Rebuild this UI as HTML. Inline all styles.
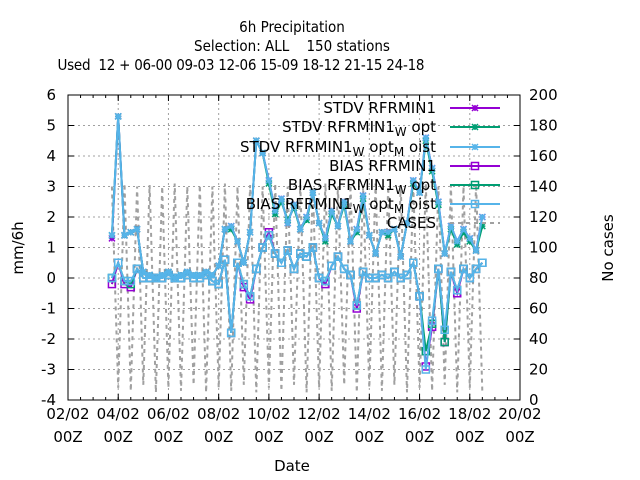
<!DOCTYPE html>
<html><head><meta charset="utf-8"><style>
html,body{margin:0;padding:0;background:#fff;}
svg{display:block;font-family:"DejaVu Sans","Liberation Sans",sans-serif;}
.ttl{font-family:"DejaVu Sans Condensed","DejaVu Sans","Liberation Sans",sans-serif;font-stretch:condensed;}
</style></head><body>
<svg id="chart" width="640" height="480" viewBox="0 0 640 480">
<g class="ttl" font-size="15" text-anchor="middle" fill="#000">
<text x="292" y="32">6h Precipitation</text>
<text x="292" y="51" xml:space="preserve">Selection: ALL    150 stations</text>
<text x="241" y="70" textLength="367" lengthAdjust="spacing" xml:space="preserve">Used  12 + 06-00 09-03 12-06 15-09 18-12 21-15 24-18</text>
</g>
<g id="grid"></g>
<g id="axes"></g>
<g id="series"></g>
<rect x="68" y="95" width="452" height="305" fill="none" stroke="#000" stroke-width="1"/>
<text x="292" y="471" font-size="15" text-anchor="middle">Date</text>
<text transform="translate(23,248) rotate(-90)" font-size="15" text-anchor="middle">mm/6h</text>
<text transform="translate(613,248) rotate(-90)" font-size="15" text-anchor="middle">No cases</text>
<g id="legend" font-size="15" text-anchor="end"></g>
</svg>
<script>
const days=[3.75,4,4.25,4.5,4.75,5,5.25,5.5,5.75,6,6.25,6.5,6.75,7,7.25,7.5,7.75,8,8.25,8.5,8.75,9,9.25,9.5,9.75,10,10.25,10.5,10.75,11,11.25,11.5,11.75,12,12.25,12.5,12.75,13,13.25,13.5,13.75,14,14.25,14.5,14.75,15,15.25,15.5,15.75,16,16.25,16.5,16.75,17,17.25,17.5,17.75,18,18.25,18.5];
const stdv=[1.3,5.3,1.4,1.5,1.6,0.2,0.1,0.0,0.1,0.2,0.0,0.1,0.2,0.1,0.1,0.2,0.1,0.4,1.6,1.7,1.2,0.5,1.5,4.5,4.1,3.2,2.2,2.6,1.8,2.4,1.6,2.0,2.8,1.8,1.3,2.2,1.7,2.5,1.2,1.6,2.7,1.4,0.8,1.5,1.5,1.6,0.7,1.8,3.2,2.8,4.6,3.6,2.5,0.8,1.7,1.2,1.6,1.3,0.9,2.0];
const stdvW=[1.4,5.3,1.4,1.5,1.6,0.2,0.1,0.0,0.1,0.2,0.0,0.1,0.2,0.1,0.1,0.2,0.1,0.4,1.6,1.6,1.2,0.5,1.5,4.5,4.1,3.1,2.1,2.5,1.9,2.3,1.6,1.9,2.8,1.8,1.2,2.1,1.7,2.4,1.2,1.5,2.6,1.4,0.8,1.5,1.4,1.6,0.7,1.8,3.1,2.8,4.5,3.5,2.4,0.8,1.6,1.1,1.5,1.2,0.9,1.7];
const stdvM=[1.4,5.3,1.4,1.5,1.6,0.2,0.1,0.0,0.1,0.2,0.0,0.1,0.2,0.1,0.1,0.2,0.1,0.4,1.6,1.7,1.2,0.5,1.5,4.5,4.1,3.2,2.2,2.6,1.8,2.4,1.6,2.0,2.8,1.8,1.3,2.2,1.7,2.5,1.2,1.6,2.7,1.4,0.8,1.5,1.5,1.6,0.7,1.8,3.2,2.8,4.6,3.6,2.5,0.8,1.7,1.2,1.6,1.3,0.9,2.0];
const bias=[-0.2,0.5,-0.2,-0.3,0.3,0.0,0.0,0.0,0.0,0.1,0.0,0.0,0.1,0.0,0.0,0.1,-0.1,-0.2,0.6,-1.8,0.5,-0.3,-0.7,0.3,1.0,1.5,0.8,0.5,0.9,0.3,0.8,0.7,1.0,0.0,-0.2,0.4,0.7,0.3,0.1,-1.0,0.2,0.0,0.0,0.1,0.0,0.2,0.0,0.1,0.5,-0.6,-2.9,-1.6,0.3,-2.1,0.2,-0.5,0.3,0.0,0.3,0.5];
const biasW=[0.0,0.5,-0.1,-0.2,0.3,0.0,0.0,0.0,0.0,0.1,0.0,0.0,0.1,0.0,0.0,0.1,-0.1,-0.2,0.6,-1.8,0.5,-0.2,-0.6,0.3,1.0,1.4,0.8,0.5,0.9,0.3,0.8,0.7,1.0,0.0,-0.1,0.4,0.7,0.3,0.1,-0.9,0.2,0.0,0.0,0.1,0.0,0.2,0.0,0.1,0.5,-0.6,-2.4,-1.5,0.3,-2.1,0.2,-0.4,0.3,0.0,0.3,0.5];
const biasM=[0.0,0.5,-0.1,-0.1,0.3,0.0,0.0,0.0,0.0,0.1,0.0,0.0,0.1,0.0,0.0,0.1,-0.1,-0.2,0.6,-1.8,0.5,-0.2,-0.6,0.3,1.0,1.4,0.8,0.5,0.9,0.3,0.8,0.7,1.0,0.0,-0.1,0.4,0.7,0.3,0.1,-0.9,0.2,0.0,0.0,0.1,0.0,0.2,0.0,0.1,0.5,-0.6,-3.0,-1.4,0.3,-1.7,0.2,-0.4,0.3,0.0,0.3,0.5];
const cases=[140,8,142,6,140,10,141,5,140,8,142,6,140,10,141,5,140,8,142,6,140,10,141,5,140,8,142,6,140,10,141,5,140,8,142,6,140,10,141,5,140,8,142,6,140,10,141,5,140,8,142,6,140,10,141,5,140,8,142,6];
const yTicks=[-4,-3,-2,-1,0,1,2,3,4,5,6];
const y2Ticks=[0,20,40,60,80,100,120,140,160,180,200];
const xTickDays=[2,4,6,8,10,12,14,16,18,20];
const xTickLabels=["02/02","04/02","06/02","08/02","10/02","12/02","14/02","16/02","18/02","20/02"];

const NS="http://www.w3.org/2000/svg";
const X0=68,X1=520,Y0=400,Y1=95;
const xs=d=>X0+(d-2)/18*(X1-X0);
const ys=v=>Y0-(v+4)/10*(Y0-Y1);
const y2s=v=>Y0-v/200*(Y0-Y1);
function mk(tag,attrs,parent){const e=document.createElementNS(NS,tag);for(const k in attrs)e.setAttribute(k,attrs[k]);parent.appendChild(e);return e;}
const grid=document.getElementById('grid'),axes=document.getElementById('axes'),ser=document.getElementById('series'),leg=document.getElementById('legend');

yTicks.forEach((v,i)=>{
  const y=ys(v);
  if(i>0&&i<yTicks.length-1){const g=mk('line',{x1:X0,x2:X1,y1:y,y2:y,stroke:'#a0a0a0','stroke-dasharray':'2,3','stroke-width':1},grid);
  
  }
  mk('line',{x1:X0,x2:X0+6,y1:y,y2:y,stroke:'#000'},axes);
  const t=mk('text',{x:56,y:y+5,'font-size':15,'text-anchor':'end'},axes);t.textContent=v;
  
  
});
y2Ticks.forEach(v=>{
  const y=y2s(v);
  mk('line',{x1:X1-6,x2:X1,y1:y,y2:y,stroke:'#000'},axes);
  const t=mk('text',{x:529,y:y+5,'font-size':15,'text-anchor':'start'},axes);t.textContent=v;
  
  
});
for(let d=2.5;d<20;d+=0.5){const x=xs(d);mk('line',{x1:x,x2:x,y1:Y0,y2:Y0-3,stroke:'#000'},axes);mk('line',{x1:x,x2:x,y1:Y1,y2:Y1+3,stroke:'#000'},axes);}
xTickDays.forEach((d,i)=>{
  const x=xs(d);
  if(i>0&&i<xTickDays.length-1){const g=mk('line',{x1:x,x2:x,y1:Y0,y2:Y1,stroke:'#a0a0a0','stroke-dasharray':'2,3'},grid);
  
  }
  mk('line',{x1:x,x2:x,y1:Y0,y2:Y0-6,stroke:'#000'},axes);
  mk('line',{x1:x,x2:x,y1:Y1,y2:Y1+6,stroke:'#000'},axes);
  const t=mk('text',{x:x,y:419,'font-size':15,'text-anchor':'middle'},axes);t.textContent=xTickLabels[i];
  
  
  const t2=mk('text',{x:x,y:442,'font-size':15,'text-anchor':'middle'},axes);t2.textContent='00Z';
  
  
});

const cp=days.map((d,i)=>xs(d).toFixed(1)+','+y2s(cases[i]).toFixed(1)).join(' ');
const cl=mk('polyline',{points:cp,fill:'none',stroke:'#a0a0a0','stroke-width':2,'stroke-dasharray':'4,4'},ser);



function star(g,x,y,c){mk('path',{d:`M${x-3},${y}h6M${x},${y-3}v6M${x-3},${y-3}l6,6M${x-3},${y+3}l6,-6`,stroke:c,'stroke-width':1.5},g);}
function sq(g,x,y,c){mk('rect',{x:x-3.5,y:y-3.5,width:7,height:7,fill:'none',stroke:c,'stroke-width':1.5},g);}
const series=[
 {v:stdv,c:'#9400d3',m:star,n:'stdv-rfrmin1'},
 {v:bias,c:'#9400d3',m:sq,n:'bias-rfrmin1'},
 {v:stdvW,c:'#009e73',m:star,n:'stdv-rfrmin1-wopt'},
 {v:biasW,c:'#009e73',m:sq,n:'bias-rfrmin1-wopt'},
 {v:stdvM,c:'#56b4e9',m:star,n:'stdv-rfrmin1-wopt-moist'},
 {v:biasM,c:'#56b4e9',m:sq,n:'bias-rfrmin1-wopt-moist'}];
series.forEach(s=>{
  const g=mk('g',{},ser);
  
  
  mk('polyline',{points:days.map((d,i)=>xs(d).toFixed(1)+','+ys(s.v[i]).toFixed(1)).join(' '),fill:'none',stroke:s.c,'stroke-width':2},g);
  days.forEach((d,i)=>s.m(g,xs(d),ys(s.v[i]),s.c));
});

const legRows=[
 {y:108,c:'#9400d3',m:star,t:['STDV RFRMIN1']},
 {y:127,c:'#009e73',m:star,t:['STDV RFRMIN1','W','opt']},
 {y:147,c:'#56b4e9',m:star,t:['STDV RFRMIN1','W','opt','M','oist']},
 {y:166,c:'#9400d3',m:sq,t:['BIAS RFRMIN1']},
 {y:185,c:'#009e73',m:sq,t:['BIAS RFRMIN1','W','opt']},
 {y:204,c:'#56b4e9',m:sq,t:['BIAS RFRMIN1','W','opt','M','oist']},
 {y:223,c:'#a0a0a0',m:null,t:['CASES']}];
legRows.forEach(r=>{
  const g=mk('g',{},leg);
  
  
  const t=mk('text',{x:436,y:r.y+5},g);
  r.t.forEach((p,i)=>{const ts=mk('tspan',{},t);ts.textContent=(i%2===1)?p:(i>0?' '+p:p);if(i%2===1){ts.setAttribute('font-size','12');ts.setAttribute('baseline-shift','-30%');}});
  if(r.m){mk('line',{x1:450,x2:500,y1:r.y,y2:r.y,stroke:r.c,'stroke-width':2},g);r.m(g,475,r.y,r.c);}
  else mk('line',{x1:450,x2:500,y1:r.y,y2:r.y,stroke:r.c,'stroke-width':2,'stroke-dasharray':'4,4'},g);
});
</script>
</body></html>
